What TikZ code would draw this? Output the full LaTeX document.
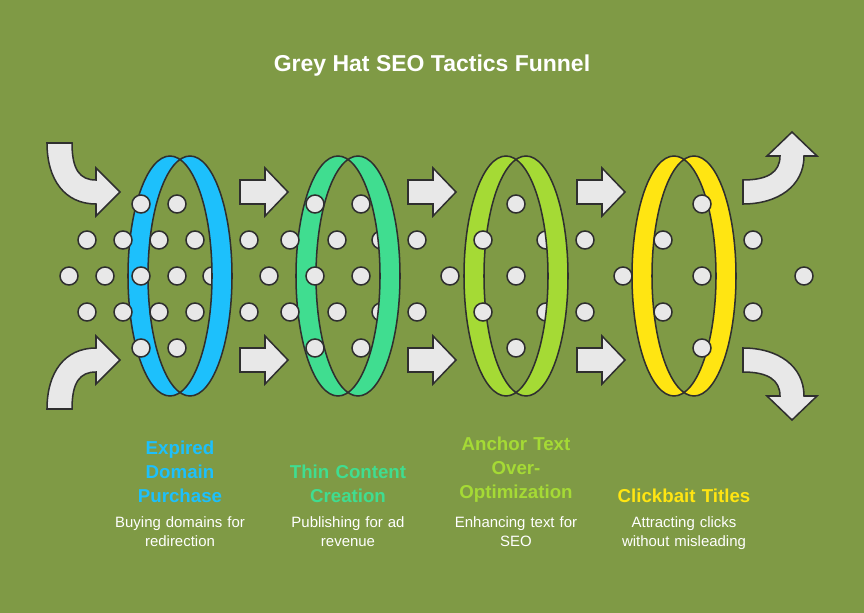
\documentclass[tikz,border=0pt]{standalone}
\usepackage{fontspec}
\setmainfont{Liberation Sans}
\definecolor{bgolive}{HTML}{7F9A45}
\definecolor{edgegrey}{HTML}{2F2F2F}
\definecolor{dotgrey}{HTML}{E8E8E8}
\definecolor{ringblue}{HTML}{1DC0FC}
\definecolor{ringteal}{HTML}{40DD90}
\definecolor{ringlime}{HTML}{A5DA35}
\definecolor{ringyellow}{HTML}{FFE512}
\begin{document}
\begin{tikzpicture}[
  x=0.01in, y=-0.01in,
  %  styles
  dot_style/.style={draw=edgegrey, fill=dotgrey, line width=1.1pt},
  arrow_style/.style={draw=edgegrey, fill=dotgrey, line width=1.1pt, line join=miter},
  ring_style/.style={draw=edgegrey, line width=1.1pt, even odd rule},
  label_style/.style={font=\fontsize{13.5}{17.3}\selectfont\bfseries, text width=1.6in, align=center, inner sep=0pt},
  desc_style/.style={font=\fontsize{10.8}{13.7}\selectfont, text=white, text width=1.7in, align=center, inner sep=0pt}
]
\fill[bgolive] (0,0) rectangle (864,613);

\node[font=\fontsize{16.6}{19}\selectfont\bfseries, text=white] (title) at (432,66) {Grey Hat SEO Tactics Funnel};

%  dots behind the rings
\foreach \x/\y in {212/276, 381/240, 381/312, 546/240, 546/312}
  \draw[dot_style] (\x,\y) circle (9);

%  rings
\foreach \c/\col in {180/ringblue, 348/ringteal, 516/ringlime, 684/ringyellow}
  \draw[ring_style, fill=\col] (\c-10,276) ellipse (42 and 120) (\c+10,276) ellipse (42 and 120);

%  dots in front
\foreach \x in {141,177,315,361,516,702}
  \draw[dot_style] (\x,204) circle (9) (\x,348) circle (9);
\foreach \x in {87,123,159,195,249,290,337,417,483,585,663,753}
  \draw[dot_style] (\x,240) circle (9) (\x,312) circle (9);
\foreach \x in {69,105,141,177,269,315,361,450,516,623,702,804}
  \draw[dot_style] (\x,276) circle (9);

%  straight arrows
\foreach \x in {240,408,577}
  \foreach \y in {192,360}
    \draw[arrow_style] (\x,\y-12) -- ++(25,0) -- ++(0,-12) -- ++(23,24) -- ++(-23,24) -- ++(0,-12) -- ++(-25,0) -- cycle;

%  curved arrows, left
\draw[arrow_style] (47,143) -- (72,143) .. controls (72,170) and (80,180) .. (96,180) -- (96,168) -- (120,192) -- (96,216) -- (96,204) .. controls (65,204) and (47,180) .. (47,143) -- cycle;
\draw[arrow_style] (47,409) -- (72,409) .. controls (72,382) and (80,372) .. (96,372) -- (96,384) -- (120,360) -- (96,336) -- (96,348) .. controls (65,348) and (47,372) .. (47,409) -- cycle;
%  curved arrows, right
\draw[arrow_style] (743,180) -- (743,204) .. controls (778,204) and (804,186) .. (804,156) -- (817,156) -- (792,132) -- (767,156) -- (780,156) .. controls (780,172) and (768,180) .. (743,180) -- cycle;
\draw[arrow_style] (743,372) -- (743,348) .. controls (778,348) and (804,366) .. (804,396) -- (817,396) -- (792,420) -- (767,396) -- (780,396) .. controls (780,380) and (768,372) .. (743,372) -- cycle;

%  labels
\node[label_style, text=ringblue, anchor=south] (expired) at (180,503) {Expired\\Domain\\Purchase};
\node[label_style, text=ringteal, anchor=south] (thin) at (348,503) {Thin Content\\Creation};
\node[label_style, text=ringlime, anchor=south] (anchor) at (516,503) {Anchor Text\\Over-\\Optimization};
\node[label_style, text=ringyellow, anchor=south] (clickbait) at (684,503) {Clickbait Titles};

\node[desc_style, anchor=north] (expireddesc) at (180,516) {Buying domains for\\redirection};
\node[desc_style, anchor=north] (thindesc) at (348,516) {Publishing for ad\\revenue};
\node[desc_style, anchor=north] (anchordesc) at (516,516) {Enhancing text for\\SEO};
\node[desc_style, anchor=north] (clickbaitdesc) at (684,516) {Attracting clicks\\without misleading};
\end{tikzpicture}
\end{document}
